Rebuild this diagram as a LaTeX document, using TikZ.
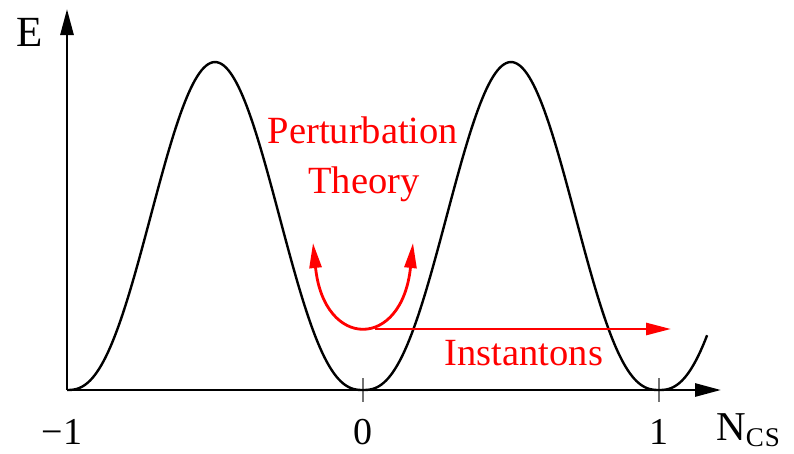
\documentclass[tikz,border=0pt]{standalone}
\usepackage{fontspec}
\setmainfont{Liberation Serif}
\usetikzlibrary{arrows.meta}
\tikzset{
  axis/.style={line width=2.8pt,-{Triangle[length=26pt,width=13pt]}},
  curve/.style={line width=2.4pt,line join=round},
  tickmark/.style={line width=2pt,draw=black!55},
  redline/.style={line width=2.8pt,draw=red},
  redtip/.style={-{Triangle[length=25pt,width=12pt]}},
  redtxt/.style={text=red,inner sep=0pt,anchor=base,font=\fontsize{38.5}{38.5}\selectfont},
  lbl/.style={inner sep=0pt,anchor=base,font=\fontsize{38}{38}\selectfont}
}
\begin{document}
\begin{tikzpicture}[x=1pt,y=-1pt]
\useasboundingbox (0,0) rectangle (794,453);
% axes
\coordinate (o) at (67,390);
\coordinate (ytip) at (67,9);
\coordinate (xtip) at (721,390);
\draw[axis] (o) -- (ytip);
\draw[axis] (o) -- (xtip);
% ticks
\coordinate (t0a) at (363,378);
\coordinate (t0b) at (363,402);
\coordinate (t1a) at (659,378);
\coordinate (t1b) at (659,402);
\draw[tickmark] (t0a) -- (t0b);
\draw[tickmark] (t1a) -- (t1b);
% potential curve
\draw[curve] plot[domain=-1:1.1655,samples=300,variable=\t]
  ({363+296*\t},{390-328*(sin(180*\t))^2*sqrt(abs(sin(180*\t)))});
% labels
\node[lbl,font=\fontsize{43}{43}\selectfont] (E) at (30,46) {E};
\node[inner sep=0pt,anchor=base west] (N) at (716,440)
  {\fontsize{41}{41}\selectfont N\raisebox{-6pt}{\fontsize{27}{27}\selectfont C\kern1pt S}};
\node[lbl] (m1) at (62,444) {−1};
\node[lbl] (z0) at (363,444) {0};
\node[lbl] (p1) at (659,444) {1};
% red annotations
\node[redtxt] (pert) at (363,143) {Perturbation};
\node[redtxt] (theo) at (364,193) {Theory};
\node[redtxt] (inst) at (524,365) {Instantons};
\coordinate (ul) at (313,243);
\coordinate (ur) at (413,243);
\draw[redline,{Triangle[length=25pt,width=12pt]}-{Triangle[length=25pt,width=12pt]}]
  (ul) .. controls (324,350) and (402,350) .. (ur);
\coordinate (ia) at (375,329);
\coordinate (ib) at (671,329);
\draw[redline,redtip] (ia) -- (ib);
\end{tikzpicture}
\end{document}
